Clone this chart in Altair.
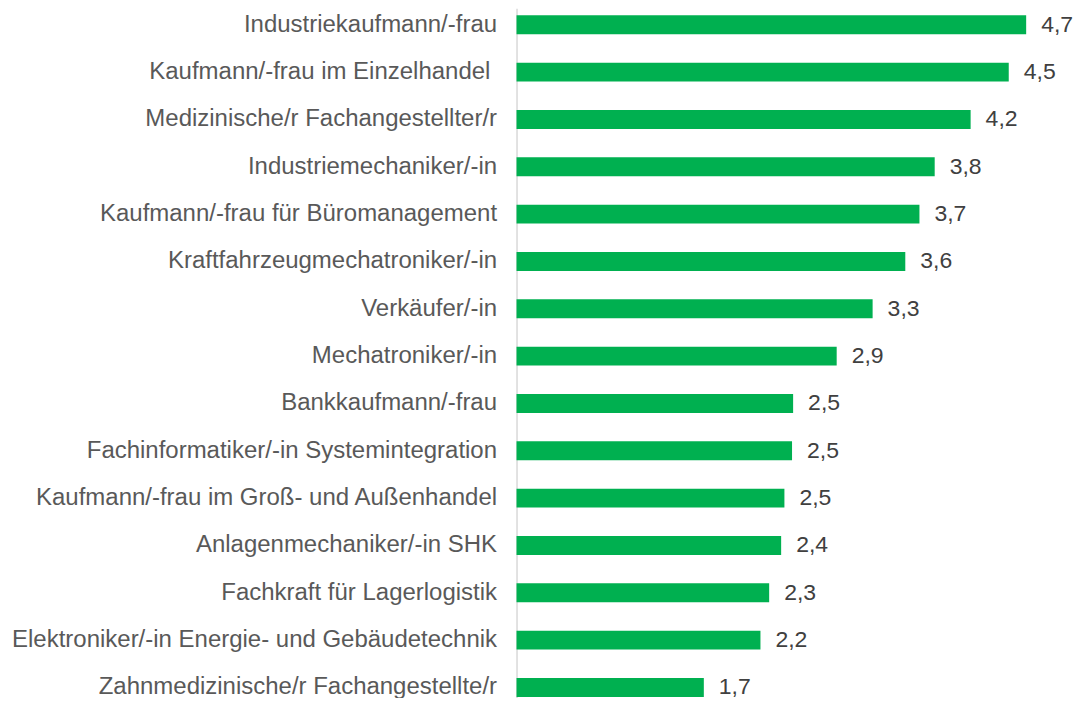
import altair as alt
import pandas as pd

categories = [
    "Industriekaufmann/-frau",
    "Kaufmann/-frau im Einzelhandel\u00a0\u200b",
    "Medizinische/r Fachangestellter/r",
    "Industriemechaniker/-in",
    "Kaufmann/-frau für Büromanagement",
    "Kraftfahrzeugmechatroniker/-in",
    "Verkäufer/-in",
    "Mechatroniker/-in",
    "Bankkaufmann/-frau",
    "Fachinformatiker/-in Systemintegration",
    "Kaufmann/-frau im Groß- und Außenhandel",
    "Anlagenmechaniker/-in SHK",
    "Fachkraft für Lagerlogistik",
    "Elektroniker/-in Energie- und Gebäudetechnik",
    "Zahnmedizinische/r Fachangestellte/r",
]
values = [4.68, 4.52, 4.17, 3.84, 3.70, 3.57, 3.27, 2.94, 2.54, 2.53, 2.46, 2.43, 2.32, 2.24, 1.72]
value_labels = ["4,7", "4,5", "4,2", "3,8", "3,7", "3,6", "3,3", "2,9", "2,5", "2,5", "2,5", "2,4", "2,3", "2,2", "1,7"]

df = pd.DataFrame({"cat": categories, "val": values, "lbl": value_labels})

y_enc = alt.Y(
    "cat:N",
    sort=categories,
    scale=alt.Scale(paddingInner=0.6, paddingOuter=0.0823, align=0.9, round=False),
    axis=alt.Axis(
        title=None,
        ticks=False,
        labelPadding=20,
        labelFont="Liberation Sans",
        labelFontSize=24,
        labelColor="#595959",
        labelLimit=0,
        domainColor="#d9d9d9",
        domainWidth=1.5,
        grid=False,
    ),
)
x_enc = alt.X("val:Q", scale=alt.Scale(domain=[0, 5], nice=False), axis=None)

bars = alt.Chart(df).mark_bar(color="#00B050").encode(x=x_enc, y=y_enc)
texts = alt.Chart(df).mark_text(
    align="left", baseline="middle", dx=15,
    font="Liberation Sans", fontSize=23, color="#404040",
).encode(x=x_enc, y=y_enc, text="lbl:N")

chart = (
    (bars + texts)
    .properties(
        width=545,
        height=690,
        autosize=alt.AutoSizeParams(type="none"),
        padding={"left": 509, "top": 0, "right": 15, "bottom": 0},
        background="white",
    )
    .configure_view(stroke=None)
)

chart.save("out.html", embed_options={"renderer": "svg", "actions": False})
